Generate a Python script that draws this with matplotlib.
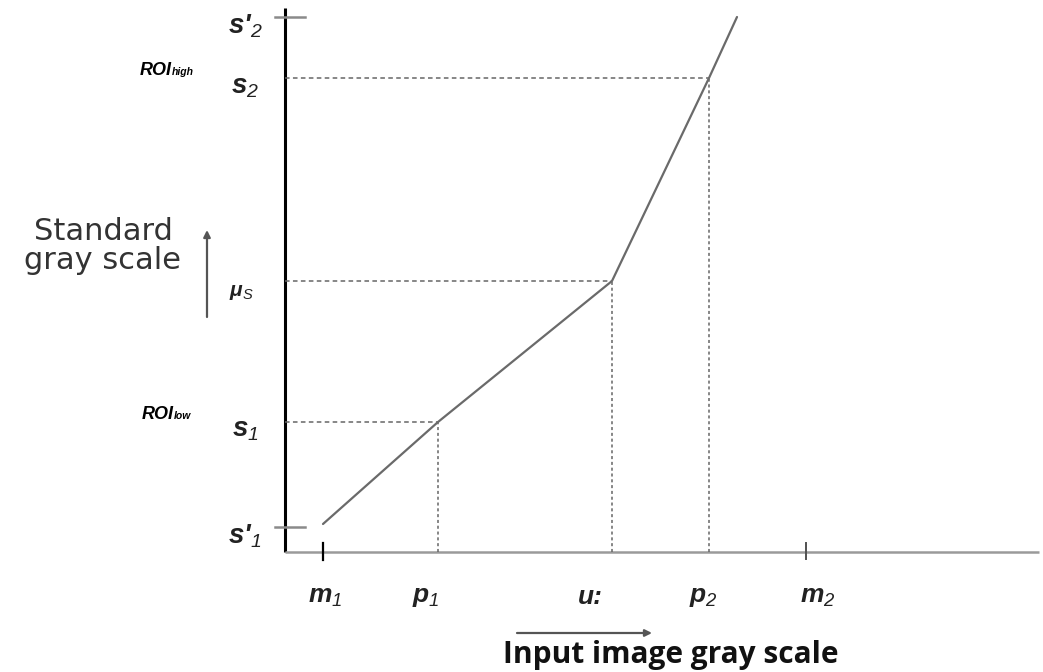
import matplotlib
matplotlib.use("Agg")
import matplotlib.pyplot as plt

plt.rcParams['mathtext.fontset'] = 'custom'
plt.rcParams['mathtext.it'] = 'Liberation Sans:italic'
plt.rcParams['mathtext.rm'] = 'Liberation Sans:italic'
plt.rcParams['mathtext.bf'] = 'Liberation Sans:bold'

# ---- data (diagram units: x from y-axis, y from x-axis) ----
x_keys = [38, 153, 327, 424, 521]            # m1, p1, mu_i, p2, m2
x_key_labels = ["m$_1$", "p$_1$", "u:", "p$_2$", "m$_2$"]
curve_x = [38, 153, 327, 424, 452]
curve_y = [28, 130, 271, 474, 535]
y_keys = [25, 130, 271, 474, 535]             # s'1, s1, mu_s, s2, s'2
y_key_labels = ["s'$_1$", "s$_1$", "μ$_S$", "s$_2$", "s'$_2$"]
roi_labels = ["low", "high"]
guide_points = [(153, 130), (327, 271), (424, 474)]

W, H = 1043, 672
fig = plt.figure(figsize=(W / 100, H / 100), dpi=100)
ax = fig.add_axes([0, 0, 1, 1])
ax.set_xlim(-285, W - 285)
ax.set_ylim(552 - H, 552)
ax.axis('off')

LF = 'Liberation Sans'

# axes
ax.plot([0, 0], [0, 544], color='black', lw=2.2, solid_capstyle='butt')
ax.plot([0, 754], [0, 0], color='#9a9a9a', lw=1.8, solid_capstyle='butt')

# dashed guides
for gx, gy in guide_points:
    ax.plot([0, gx], [gy, gy], color='#666666', lw=1.1, ls=(0, (3, 2.2)))
    ax.plot([gx, gx], [0, gy], color='#666666', lw=1.1, ls=(0, (2, 1.8)))

# curve
ax.plot(curve_x, curve_y, color='#6a6a6a', lw=1.6, solid_capstyle='round')

# s' ticks
for yk in (y_keys[0], y_keys[-1]):
    ax.plot([-10, 20], [yk, yk], color='#8a8a8a', lw=1.8)
# m ticks
ax.plot([x_keys[0], x_keys[0]], [-8, 9], color='black', lw=1.6)
ax.plot([x_keys[-1], x_keys[-1]], [-7, 9], color='#505050', lw=1.4)

# y key labels
ylab_x = [-40, -40, -44, -40, -40]
ylab_dy = [-9, -8, -11, -9, -9]
ylab_fs = [20, 20, 15, 20, 20]
for yk, lab, lx, dy, fs in zip(y_keys, y_key_labels, ylab_x, ylab_dy, ylab_fs):
    ax.text(lx, yk + dy, lab, fontsize=fs, ha='center', va='center', color='#222222',
            family=LF, fontstyle='italic', fontweight='bold')

# ROI labels
for yk, name, lx in ((y_keys[1], roi_labels[0], -143), (y_keys[3], roi_labels[1], -145)):
    t = ax.text(lx, yk + 3, "ROI", fontsize=13, fontweight='bold', fontstyle='italic',
                family=LF, ha='left', va='baseline', color='black')
    ax.annotate(name, xy=(1, yk + 3), xycoords=(t, 'data'), fontsize=7.5,
                fontweight='bold', fontstyle='italic', family=LF,
                ha='left', va='baseline', color='black')

# x key labels
xlab_dx = [2, -12, -22, -6, 12]
for xk, lab, dx in zip(x_keys, x_key_labels, xlab_dx):
    ax.text(xk + dx, -45, lab, fontsize=19, ha='center', va='center', color='#222222',
            family=LF, fontstyle='italic', fontweight='bold')

# axis titles
ax.text(-182, 306, "Standard\ngray scale", fontsize=22, family='DejaVu Sans',
        ha='center', va='center', linespacing=1.02, color='#333333')
ax.text(386, -103, "Input image gray scale", fontsize=21.5, family='Open Sans',
        fontweight='bold', ha='center', va='center', color='#111111')

# arrows
ax.annotate("", xy=(-78, 322), xytext=(-78, 235),
            arrowprops=dict(arrowstyle='-|>', color='#555555', lw=1.6,
                            mutation_scale=10, shrinkA=0, shrinkB=0))
ax.annotate("", xy=(367, -81), xytext=(232, -81),
            arrowprops=dict(arrowstyle='-|>', color='#555555', lw=1.6,
                            mutation_scale=10, shrinkA=0, shrinkB=0))

fig.savefig("out.png", dpi=100)
